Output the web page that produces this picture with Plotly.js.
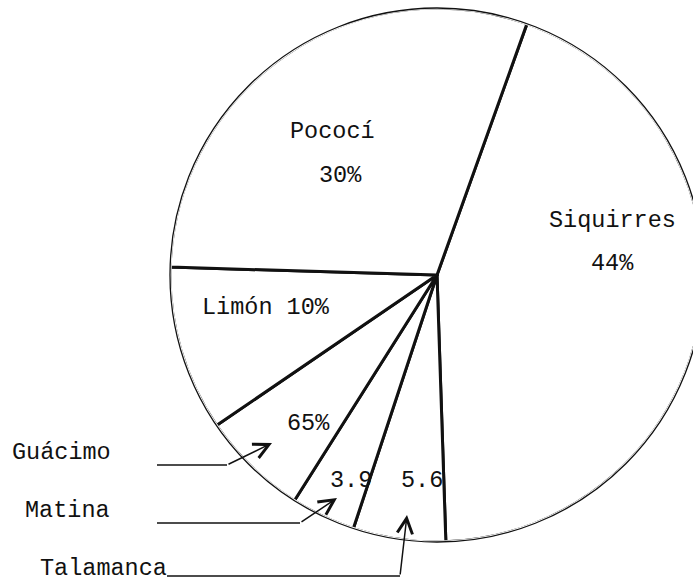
<!DOCTYPE html>
<html><head><meta charset="utf-8">
<script src="https://cdn.plot.ly/plotly-3.0.1.min.js"></script>
<style>html,body{margin:0;padding:0;overflow:hidden;background:#fff}#chart{width:720px;height:585px}</style>
</head><body><div id="chart"></div>
<script>
// ---- data ----
const regions = ['Siquirres', 'Talamanca', 'Matina', 'Guácimo', 'Limón', 'Pococí'];
const shares = [44, 5.6, 3.9, 6.5, 10, 30];
const insideLabels = ['Siquirres', '44%', 'Pococí', '30%', 'Limón 10%', '65%', '3.9', '5.6'];
const outsideLabels = ['Guácimo', 'Matina', 'Talamanca'];

// ---- layout geometry (pixels) ----
const W = 720, H = 585;
const cx = 437, cy = 275, R = 267;
const px = x => x / W, py = y => 1 - y / H;
const dom = r => ({x: [px(cx - r), px(cx + r)], y: [py(cy + r), py(cy - r)]});

const FONT = {family: 'Liberation Mono, Courier New, monospace', size: 23.5, color: '#111'};

const traces = [
  {type: 'pie', labels: regions, values: shares, sort: false, direction: 'clockwise', rotation: 19.7,
   domain: dom(R), marker: {colors: regions.map(() => '#fff'), line: {color: '#111', width: 3}},
   textinfo: 'none', hoverinfo: 'skip', showlegend: false},
  {type: 'pie', values: [1], labels: ['ring'], sort: false, domain: dom(R + 3), hole: (R - 1.5) / (R + 3),
   marker: {colors: ['#fff'], line: {width: 0}}, textinfo: 'none', hoverinfo: 'skip', showlegend: false},
  {type: 'pie', values: [1], labels: ['outline'], sort: false, domain: dom(R),
   marker: {colors: ['rgba(0,0,0,0)'], line: {color: '#111', width: 1.3}}, textinfo: 'none', hoverinfo: 'skip', showlegend: false}
];

const insidePos = [[612, 220], [612, 263], [332, 131], [340, 175], [266, 307], [308, 423], [351, 480], [422, 480]];
const outsidePos = [[61, 452], [67, 510], [104, 568]];
const annotations = [];
insideLabels.forEach((t, i) => annotations.push({text: t, x: px(insidePos[i][0]), y: py(insidePos[i][1]),
  xref: 'paper', yref: 'paper', showarrow: false, font: FONT, xanchor: 'center', yanchor: 'middle'}));
outsideLabels.forEach((t, i) => annotations.push({text: t, x: px(outsidePos[i][0]), y: py(outsidePos[i][1]),
  xref: 'paper', yref: 'paper', showarrow: false, font: FONT, xanchor: 'center', yanchor: 'middle'}));

// leader lines: [startX, y, elbowX, tipX, tipY]
const leaders = [[157, 465, 227, 272, 443], [157, 523, 300, 337, 498], [167, 576, 400, 407, 515]];
const shapes = [];
leaders.forEach(l => {
  shapes.push({type: 'line', xref: 'paper', yref: 'paper', x0: px(l[0]), y0: py(l[1]), x1: px(l[2]), y1: py(l[1]),
    line: {color: '#111', width: 1.5}});
  annotations.push({text: '', xref: 'paper', yref: 'paper', x: px(l[3]), y: py(l[4]), showarrow: true,
    ax: l[2] - l[3], ay: l[1] - l[4], arrowhead: 5, arrowsize: 2, arrowwidth: 1.5, arrowcolor: '#111', standoff: 0});
});

Plotly.newPlot('chart', traces, {
  width: W, height: H, margin: {l: 0, r: 0, t: 0, b: 0},
  paper_bgcolor: '#fff', plot_bgcolor: '#fff', showlegend: false,
  annotations: annotations, shapes: shapes
}, {staticPlot: true});
</script></body></html>
